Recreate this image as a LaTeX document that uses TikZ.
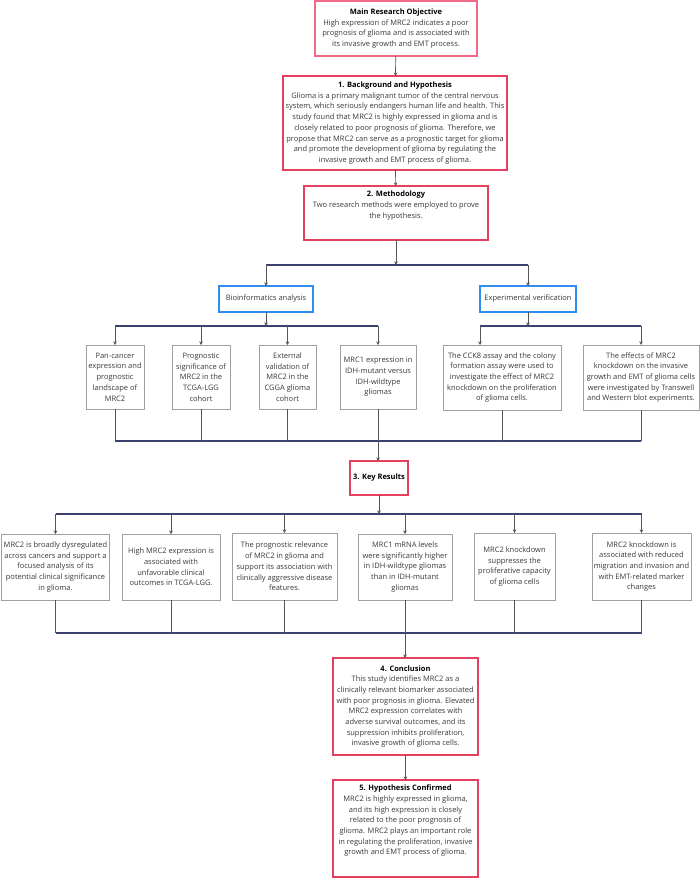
\documentclass[tikz,border=0pt]{standalone}
\usepackage{fontspec}
\setmainfont{Open Sans}
\usetikzlibrary{arrows.meta}
\definecolor{redb}{HTML}{E5405F}
\definecolor{pinkb}{HTML}{F06A88}
\definecolor{blueb}{HTML}{2F8FF0}
\definecolor{grayb}{HTML}{A0A0A0}
\definecolor{navy}{HTML}{3C4270}
\definecolor{txtc}{HTML}{3A3A3A}
\definecolor{vlinec}{HTML}{555555}
\begin{document}
\begin{tikzpicture}[x=1pt,y=-1pt,
  every node/.style={inner sep=0pt,outer sep=0pt,font=\fontsize{7.5}{10.7}\selectfont,text=txtc,align=center},
  pinkbox/.style={draw=pinkb,line width=1.8pt,fill=white,rectangle},
  redbox/.style={draw=redb,line width=2.4pt,fill=white,rectangle},
  bluebox/.style={draw=blueb,line width=2pt,fill=white,rectangle},
  graybox/.style={draw=grayb,line width=0.8pt,fill=white,rectangle},
  conn/.style={draw=vlinec,line width=0.7pt},
  bus/.style={draw=navy,line width=1.1pt},
  arr/.style={-{Stealth[length=3.5pt,width=3.5pt]}}
]
\useasboundingbox (0,0) rectangle (700,878);
\fill[white] (0,0) rectangle (700,878);

% top chain
\node[pinkbox,minimum width=162pt,minimum height=55pt] (main) at (396,28.5)
 {{\bfseries\color{black}Main Research Objective}\\High expression of MRC2 indicates a poor\\prognosis of glioma and is associated with\\its invasive growth and EMT process.};
\node[redbox,minimum width=224pt,minimum height=94pt] (bg) at (395,123)
 {{\bfseries\color{black}1. Background and Hypothesis}\\Glioma is a primary malignant tumor of the central nervous\\system, which seriously endangers human life and health. This\\study found that MRC2 is highly expressed in glioma and is\\closely related to poor prognosis of glioma. Therefore, we\\propose that MRC2 can serve as a prognostic target for glioma\\and promote the development of glioma by regulating the\\invasive growth and EMT process of glioma.};
\node[redbox,minimum width=184pt,minimum height=54pt] (meth) at (396,213) {};
\node[anchor=north] (methtxt) at ([yshift=-5pt]meth.north)
 {{\bfseries\color{black}2. Methodology}\\Two research methods were employed to prove\\the hypothesis.};

\draw[conn,arr] (main) -- (bg);
\draw[conn,arr] (bg) -- (meth);

% methods
\node[bluebox,minimum width=94pt,minimum height=26pt] (bio) at (266,299) {Bioinformatics analysis};
\node[bluebox,minimum width=96pt,minimum height=26pt] (exp) at (528,299) {Experimental verification};

\coordinate (j1) at (396,265);
\draw[conn,arr] (meth.south) -- (j1);
\draw[bus] (bio.north |- j1) -- (exp.north |- j1);
\draw[conn,arr] (bio.north |- j1) -- (bio.north);
\draw[conn,arr] (exp.north |- j1) -- (exp.north);

\node[graybox,minimum width=58pt,minimum height=64pt] (ma) at (115,377) {Pan-cancer\\expression and\\prognostic\\landscape of\\MRC2};
\node[graybox,minimum width=58pt,minimum height=64pt] (mb) at (201,377) {Prognostic\\significance of\\MRC2 in the\\TCGA-LGG\\cohort};
\node[graybox,minimum width=57pt,minimum height=64pt] (mc) at (287.5,377) {External\\validation of\\MRC2 in the\\CGGA glioma\\cohort};
\node[graybox,minimum width=76pt,minimum height=64pt] (md) at (378,377) {MRC1 expression in\\IDH-mutant versus\\IDH-wildtype\\gliomas};
\node[graybox,minimum width=118pt,minimum height=65pt] (me) at (502,377.5) {The CCK8 assay and the colony\\formation assay were used to\\investigate the effect of MRC2\\knockdown on the proliferation\\of glioma cells.};
\node[graybox,minimum width=116pt,minimum height=65pt] (mf) at (641,377.5) {The effects of MRC2\\knockdown on the invasive\\growth and EMT of glioma cells\\were investigated by Transwell\\and Western blot experiments.};

\coordinate (j2) at (0,326);
\coordinate (etop) at (480,326);
\draw[conn,arr] (bio.south) -- (bio.south |- j2);
\draw[bus] (ma.north |- j2) -- (md.north |- j2);
\foreach \n in {ma,mb,mc,md} \draw[conn,arr] (\n.north |- j2) -- (\n.north);
\draw[conn,arr] (exp.south) -- (exp.south |- j2);
\draw[bus] (etop) -- (mf.north |- j2);
\draw[conn,arr] (etop) -- (etop |- me.north);
\draw[conn,arr] (mf.north |- j2) -- (mf.north);

\coordinate (j3) at (0,441);
\draw[bus] (ma.south |- j3) -- (mf.south |- j3);
\foreach \n in {ma,mb,mc,md,me,mf} \draw[conn] (\n.south) -- (\n.south |- j3);

% key results
\node[redbox,minimum width=58pt,minimum height=34pt] (kr) at (379,478) {{\bfseries\color{black}3. Key Results}};
\draw[conn,arr] (md.south |- j3) -- (md.south |- kr.north);

\node[graybox,minimum width=108pt,minimum height=66pt] (ra) at (55.5,567) {MRC2 is broadly dysregulated\\across cancers and support a\\focused analysis of its\\potential clinical significance\\in glioma.};
\node[graybox,minimum width=98pt,minimum height=66pt] (rb) at (171,567) {High MRC2 expression is\\associated with\\unfavorable clinical\\outcomes in TCGA-LGG.};
\node[graybox,minimum width=105pt,minimum height=67pt] (rc) at (284.5,566.5) {The prognostic relevance\\of MRC2 in glioma and\\support its association with\\clinically aggressive disease\\features.};
\node[graybox,minimum width=94pt,minimum height=66pt] (rd) at (405,567) {MRC1 mRNA levels\\were significantly higher\\in IDH-wildtype gliomas\\than in IDH-mutant\\gliomas};
\node[graybox,minimum width=81pt,minimum height=67pt] (re) at (514.5,566.5) {MRC2 knockdown\\suppresses the\\proliferative capacity\\of glioma cells};
\node[graybox,minimum width=99pt,minimum height=67pt] (rf) at (641.5,566.5) {MRC2 knockdown is\\associated with reduced\\migration and invasion and\\with EMT-related marker\\changes};

\coordinate (j4) at (0,514);
\draw[conn,arr] (kr.south) -- (kr.south |- j4);
\draw[bus] (ra.north |- j4) -- (rf.north |- j4);
\foreach \n in {ra,rb,rc,rd,re,rf} \draw[conn,arr] (\n.north |- j4) -- (\n.north);

\coordinate (j5) at (0,633);
\draw[bus] (ra.south |- j5) -- (rf.south |- j5);
\foreach \n in {ra,rb,rc,rd,re,rf} \draw[conn] (\n.south) -- (\n.south |- j5);

% conclusion
\node[redbox,minimum width=145pt,minimum height=97pt] (con) at (405.5,706.5)
 {{\bfseries\color{black}4. Conclusion}\\This study identifies MRC2 as a\\clinically relevant biomarker associated\\with poor prognosis in glioma. Elevated\\MRC2 expression correlates with\\adverse survival outcomes, and its\\suppression inhibits proliferation,\\invasive growth of glioma cells.};
\draw[conn,arr] (rd.south |- j5) -- (rd.south |- con.north);

\node[redbox,minimum width=145pt,minimum height=97pt] (hyp) at (405.5,828.5) {};
\node[anchor=north] (hyptxt) at ([yshift=-5pt]hyp.north)
 {{\bfseries\color{black}5. Hypothesis Confirmed}\\MRC2 is highly expressed in glioma,\\and its high expression is closely\\related to the poor prognosis of\\glioma. MRC2 plays an important role\\in regulating the proliferation, invasive\\growth and EMT process of glioma.};
\draw[conn,arr] (con) -- (hyp);
\end{tikzpicture}
\end{document}
